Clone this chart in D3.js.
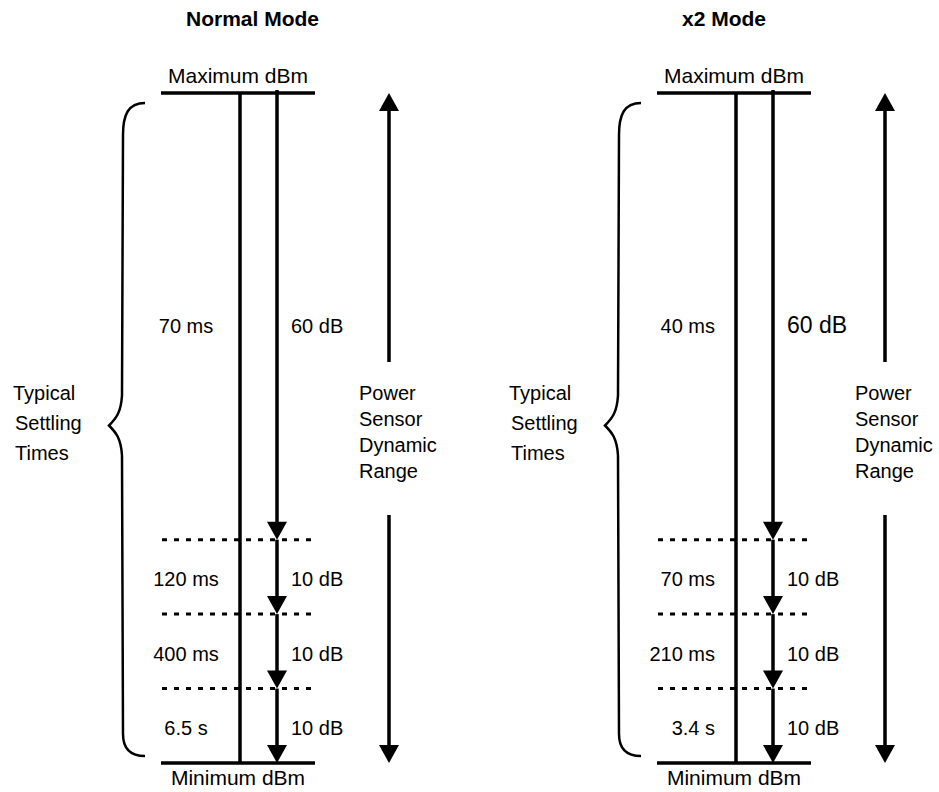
<!DOCTYPE html>
<html>
<head>
<meta charset="utf-8">
<script src="https://cdn.jsdelivr.net/npm/d3@7"></script>
<style>
    body { margin: 0; background: #fff; }
    text { font-family: 'Liberation Sans', Arial, sans-serif; fill: #000; }
</style>
</head>
<body>
<script>
(function () {
    'use strict';

    var modes = ['Normal Mode', 'x2 Mode'];
    var segmentDb = [60, 10, 10, 10];
    var dbLabels = ['60 dB', '10 dB', '10 dB', '10 dB'];
    var settlingTimes = {
        'Normal Mode': ['70 ms', '120 ms', '400 ms', '6.5 s'],
        'x2 Mode': ['40 ms', '70 ms', '210 ms', '3.4 s']
    };
    var braceLabel = ['Typical', 'Settling', 'Times'];
    var rangeLabel = ['Power', 'Sensor', 'Dynamic', 'Range'];

    var width = 939;
    var height = 792;
    var stroke = 3.5;
    var headW = 20;
    var headH = 16;

    // per-panel tweaks seen in the picture
    var msAnchor = { 'Normal Mode': ['middle', 186], 'x2 Mode': ['end', 219] };
    var firstDbSize = { 'Normal Mode': 20, 'x2 Mode': 23 };

    var bounds = d3.cumsum(segmentDb);
    var total = bounds[bounds.length - 1];
    var starts = [0].concat(Array.from(bounds).slice(0, -1));

    var y = d3.scaleLinear().domain([0, total]).range([93, 763]);
    var panelX = d3.scalePoint().domain(modes).range([0, 496]);

    var svg = d3.select('body').append('svg')
        .attr('width', width)
        .attr('height', height);

    modes.forEach(drawPanel);

    function drawPanel(mode) {
        var g = svg.append('g')
            .attr('transform', 'translate(' + panelX(mode) + ',0)');

        var msX = 240, dbX = 277, rangeX = 389;

        g.append('text')
            .attr('x', 186).attr('y', 26)
            .style('font-size', '21px')
            .style('font-weight', 'bold')
            .text(mode);

        g.append('text')
            .attr('x', 238).attr('y', 83)
            .attr('text-anchor', 'middle')
            .style('font-size', '21px')
            .text('Maximum dBm');

        g.append('text')
            .attr('x', 238).attr('y', 785)
            .attr('text-anchor', 'middle')
            .style('font-size', '21px')
            .text('Minimum dBm');

        // top and bottom rails
        [0, total].forEach(function (v) {
            g.append('line')
                .attr('x1', 161).attr('x2', 315)
                .attr('y1', y(v)).attr('y2', y(v))
                .attr('stroke', '#000').attr('stroke-width', stroke);
        });

        // dotted dividers
        g.selectAll('line.divider')
            .data(bounds.slice(0, -1))
            .enter().append('line')
            .attr('class', 'divider')
            .attr('x1', 162).attr('x2', 317)
            .attr('y1', function (d) { return y(d); })
            .attr('y2', function (d) { return y(d); })
            .attr('stroke', '#000')
            .attr('stroke-width', 3)
            .attr('stroke-dasharray', '5,7');

        // settling time line
        g.append('line')
            .attr('x1', msX).attr('x2', msX)
            .attr('y1', y(0)).attr('y2', y(total))
            .attr('stroke', '#000').attr('stroke-width', stroke);

        // dB arrows, one per segment
        segmentDb.forEach(function (d, i) {
            var y0 = y(starts[i]);
            var y1 = y(bounds[i]);
            g.append('line')
                .attr('x1', dbX).attr('x2', dbX)
                .attr('y1', i === 0 ? y0 - 3 : y0).attr('y2', y1 - headH + 2)
                .attr('stroke', '#000').attr('stroke-width', stroke);
            g.append('path')
                .attr('d', downHead(dbX, y1))
                .attr('fill', '#000');

            var ly = y(starts[i] + d * 0.52) + 8;
            g.append('text')
                .attr('x', 291).attr('y', ly)
                .style('font-size', (i === 0 ? firstDbSize[mode] : 20) + 'px')
                .text(dbLabels[i]);

            g.append('text')
                .attr('x', msAnchor[mode][1]).attr('y', ly)
                .attr('text-anchor', msAnchor[mode][0])
                .style('font-size', '20px')
                .text(settlingTimes[mode][i]);
        });

        // dynamic range double arrow with a gap for its label
        var top = y(0), bottom = y(total);
        g.append('path')
            .attr('d', 'M' + rangeX + ',' + (top + headH) + 'V362' +
                'M' + rangeX + ',515V' + (bottom - headH))
            .attr('stroke', '#000').attr('stroke-width', stroke);
        g.append('path')
            .attr('d', 'M' + rangeX + ',' + top + 'l' + (headW / 2) + ',' + (headH + 2) +
                'h' + (-headW) + 'Z')
            .attr('fill', '#000');
        g.append('path')
            .attr('d', downHead(rangeX, bottom))
            .attr('fill', '#000');

        g.selectAll('text.range')
            .data(rangeLabel)
            .enter().append('text')
            .attr('class', 'range')
            .attr('x', 359)
            .attr('y', function (d, i) { return 400 + i * 26; })
            .style('font-size', '20px')
            .text(function (d) { return d; });

        // curly brace
        var bt = y(0) + 10, bb = y(total) - 7, bm = (bt + bb) / 2 - 4;
        g.append('path')
            .attr('d', 'M145,' + bt +
                'C128,' + bt + ' 123,' + (bt + 12) + ' 123,' + (bt + 32) +
                'L122,' + (bm - 30) +
                'C121,' + (bm - 13) + ' 116,' + (bm - 7) + ' 109,' + bm +
                'C116,' + (bm + 7) + ' 121,' + (bm + 13) + ' 122,' + (bm + 30) +
                'L123,' + (bb - 22) +
                'C123,' + (bb - 8) + ' 130,' + bb + ' 145,' + bb)
            .attr('fill', 'none')
            .attr('stroke', '#000')
            .attr('stroke-width', 2.5);

        g.selectAll('text.brace')
            .data(braceLabel)
            .enter().append('text')
            .attr('class', 'brace')
            .attr('x', function (d, i) { return i === 0 ? 13 : 15; })
            .attr('y', function (d, i) { return 400 + i * 30; })
            .style('font-size', '20px')
            .text(function (d) { return d; });
    }

    function downHead(x, tipY) {
        return 'M' + x + ',' + tipY + 'l' + (headW / 2) + ',' + (-headH - 2) +
            'h' + (-headW) + 'Z';
    }
})();
</script>
</body>
</html>
